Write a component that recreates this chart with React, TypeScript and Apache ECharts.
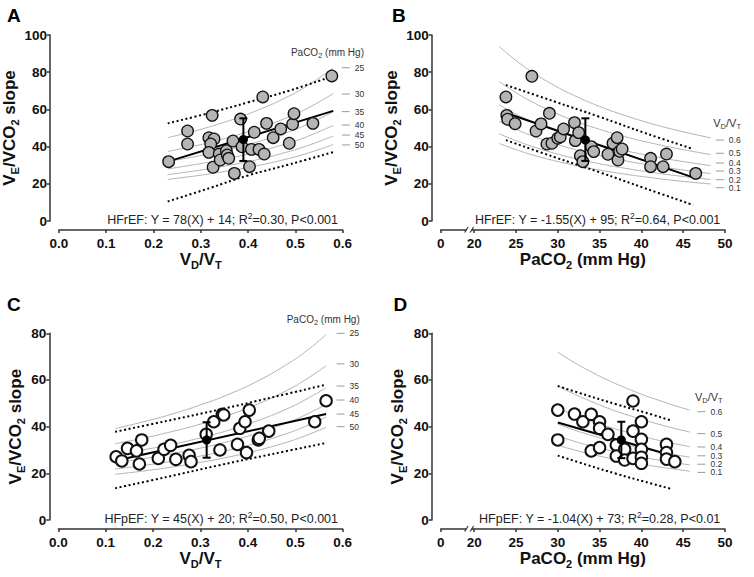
import React, { useEffect, useRef } from "react";
import * as echarts from "echarts";

const FONT = "'Liberation Sans', Arial, Helvetica, sans-serif";

// ---------------- Panel A : HFrEF, VD/VT vs VE/VCO2 slope ----------------
const A_vdvt = [0.232, 0.272, 0.272, 0.324, 0.317, 0.328, 0.321, 0.317, 0.326, 0.339, 0.341, 0.354, 0.356, 0.359, 0.368, 0.371, 0.384, 0.387, 0.403, 0.407, 0.413, 0.423, 0.431, 0.434, 0.439, 0.453, 0.469, 0.487, 0.494, 0.497, 0.537, 0.577];
const A_slope = [31.9, 48.4, 41.4, 56.8, 44.8, 44.1, 41.4, 36.9, 28.9, 36.0, 32.8, 37.8, 35.5, 33.7, 43.0, 25.6, 54.8, 39.9, 29.2, 38.5, 47.7, 38.5, 66.7, 36.0, 52.5, 44.8, 49.5, 41.8, 52.0, 57.7, 52.5, 78.0];
const A_isoX = [0.23, 0.27, 0.31, 0.35, 0.39, 0.43, 0.47, 0.52, 0.58];
const A_isoY = [
  [44.8, 47.3, 50.0, 53.1, 56.6, 60.6, 65.1, 71.9, 82.2],
  [37.4, 39.4, 41.7, 44.3, 47.2, 50.5, 54.3, 59.9, 68.5],
  [32.0, 33.8, 35.7, 37.9, 40.4, 43.3, 46.5, 51.4, 58.7],
  [28.0, 29.6, 31.3, 33.2, 35.4, 37.9, 40.7, 44.9, 51.4],
  [24.9, 26.3, 27.8, 29.5, 31.4, 33.6, 36.2, 40.0, 45.7],
  [22.4, 23.6, 25.0, 26.6, 28.3, 30.3, 32.6, 36.0, 41.1],
];
const A_isoLabels = ["25", "30", "35", "40", "45", "50"];
const A_isoLabelY = [82.4, 68.3, 58.8, 51.6, 46.2, 40.9];
const A_fitX = [0.23, 0.58];
const A_fitY = [31.9, 59.2];
const A_bandX = [0.23, 0.32, 0.40, 0.49, 0.58];
const A_bandUp = [52.5, 58.2, 63.8, 70.3, 78.0];
const A_bandLo = [10.5, 17.8, 24.5, 30.6, 37.0];
const A_mean = [0.39, 43.8];
const A_err = [32.3, 55.2];
const A_eq = ["HFrEF: Y = 78(X) + 14; R", "2", "=0.30, P<0.001"];

// ---------------- Panel B : HFrEF, PaCO2 vs VE/VCO2 slope ----------------
const B_paco2 = [23.8, 26.9, 23.9, 24.0, 24.9, 27.4, 28.0, 29.0, 28.7, 29.3, 30.0, 30.3, 30.7, 32.0, 32.1, 32.5, 32.7, 33.0, 34.0, 34.3, 36.0, 36.6, 37.1, 37.2, 37.4, 37.7, 41.1, 41.1, 42.6, 43.0, 46.5];
const B_slope = [66.7, 77.8, 56.8, 54.7, 52.3, 48.4, 52.2, 57.9, 41.4, 41.8, 44.5, 45.2, 49.5, 52.9, 43.2, 47.5, 35.1, 31.9, 40.0, 37.3, 35.9, 41.8, 44.8, 32.8, 37.5, 38.7, 33.7, 29.2, 29.2, 36.0, 25.6];
const B_isoX = [23, 25, 27, 29.5, 32, 35, 38, 41, 44.5, 48.3];
const B_isoY = [
  [93.8, 86.3, 79.9, 73.1, 67.4, 61.6, 56.8, 52.6, 48.5, 44.7],
  [75.0, 69.0, 63.9, 58.5, 53.9, 49.3, 45.4, 42.1, 38.8, 35.7],
  [62.5, 57.5, 53.3, 48.8, 45.0, 41.1, 37.9, 35.1, 32.3, 29.8],
  [53.6, 49.3, 45.7, 41.8, 38.5, 35.2, 32.4, 30.1, 27.7, 25.5],
  [46.9, 43.2, 40.0, 36.6, 33.7, 30.8, 28.4, 26.3, 24.2, 22.3],
  [41.7, 38.4, 35.5, 32.5, 30.0, 27.4, 25.2, 23.4, 21.5, 19.9],
];
const B_isoLabels = ["0.6", "0.5", "0.4", "0.3", "0.2", "0.1"];
const B_isoLabelY = [43.5, 36.4, 31.2, 26.9, 22.2, 17.9];
const B_fitX = [23.8, 46.6];
const B_fitY = [58.1, 22.8];
const B_bandX = [23.8, 29.5, 35, 40.5, 46.2];
const B_bandUp = [73.1, 64.4, 56.0, 47.2, 38.7];
const B_bandLo = [43.5, 34.5, 26.2, 17.5, 8.6];
const B_mean = [33.3, 43.6];
const B_err = [32.3, 55.2];
const B_eq = ["HFrEF: Y = -1.55(X) + 95; R", "2", "=0.64, P<0.001"];

// ---------------- Panel C : HFpEF, VD/VT vs VE/VCO2 slope ----------------
const C_vdvt = [0.122, 0.134, 0.146, 0.165, 0.176, 0.171, 0.211, 0.223, 0.237, 0.248, 0.276, 0.280, 0.312, 0.328, 0.341, 0.346, 0.349, 0.378, 0.383, 0.394, 0.403, 0.397, 0.422, 0.424, 0.444, 0.541, 0.565];
const C_slope = [27.1, 25.3, 30.7, 29.6, 34.3, 24.0, 26.4, 30.3, 32.0, 26.0, 27.7, 25.0, 36.7, 42.1, 30.0, 45.3, 45.0, 32.4, 39.3, 42.1, 47.1, 28.9, 34.3, 35.0, 38.1, 42.1, 51.1];
const C_isoX = [0.12, 0.18, 0.24, 0.30, 0.36, 0.42, 0.48, 0.52, 0.565];
const C_isoY = [
  [39.2, 42.1, 45.4, 49.3, 53.9, 59.5, 66.4, 71.9, 79.4],
  [32.7, 35.1, 37.9, 41.1, 45.0, 49.6, 55.3, 59.9, 66.1],
  [28.0, 30.1, 32.4, 35.2, 38.5, 42.5, 47.4, 51.4, 56.7],
  [24.5, 26.3, 28.4, 30.8, 33.7, 37.2, 41.5, 44.9, 49.6],
  [21.8, 23.4, 25.2, 27.4, 30.0, 33.1, 36.9, 40.0, 44.1],
  [19.6, 21.0, 22.7, 24.7, 27.0, 29.8, 33.2, 36.0, 39.7],
];
const C_isoLabels = ["25", "30", "35", "40", "45", "50"];
const C_isoLabelY = [80.0, 66.9, 57.4, 51.4, 45.4, 40.0];
const C_fitX = [0.125, 0.565];
const C_fitY = [25.6, 45.4];
const C_bandX = [0.12, 0.23, 0.34, 0.45, 0.565];
const C_bandUp = [37.8, 42.5, 47.3, 52.5, 58.0];
const C_bandLo = [13.6, 18.5, 23.5, 28.2, 33.0];
const C_mean = [0.313, 34.3];
const C_err = [26.7, 41.9];
const C_eq = ["HFpEF: Y = 45(X) + 20; R", "2", "=0.50, P<0.001"];

// ---------------- Panel D : HFpEF, PaCO2 vs VE/VCO2 slope ----------------
const D_paco2 = [30.0, 30.0, 32.0, 33.0, 34.0, 35.0, 35.0, 34.0, 35.0, 36.0, 37.0, 37.0, 38.0, 38.0, 39.0, 39.0, 39.0, 40.0, 40.0, 40.0, 40.0, 40.0, 43.0, 43.0, 43.0, 44.0];
const D_slope = [47.1, 34.3, 45.4, 42.1, 45.3, 42.1, 39.3, 29.6, 31.0, 36.7, 32.1, 27.4, 30.3, 25.7, 51.0, 38.1, 26.4, 42.1, 34.6, 30.3, 26.9, 24.3, 32.4, 28.9, 26.1, 25.0];
const D_isoX = [30, 32, 34, 36, 38, 40, 42, 44, 45.8];
const D_isoY = [
  [71.9, 67.4, 63.5, 59.9, 56.8, 53.9, 51.4, 49.0, 47.1],
  [57.5, 53.9, 50.8, 47.9, 45.4, 43.2, 41.1, 39.2, 37.7],
  [47.9, 45.0, 42.3, 40.0, 37.9, 36.0, 34.2, 32.7, 31.4],
  [41.1, 38.5, 36.3, 34.2, 32.4, 30.8, 29.4, 28.0, 26.9],
  [36.0, 33.7, 31.7, 30.0, 28.4, 27.0, 25.7, 24.5, 23.6],
  [32.0, 30.0, 28.2, 26.6, 25.2, 24.0, 22.8, 21.8, 20.9],
];
const D_isoLabels = ["0.6", "0.5", "0.4", "0.3", "0.2", "0.1"];
const D_isoLabelY = [46.4, 37.0, 31.3, 27.5, 23.9, 20.4];
const D_fitX = [30, 43];
const D_fitY = [41.8, 28.3];
const D_bandX = [30, 33.5, 37, 40.5, 43.6];
const D_bandUp = [57.4, 53.4, 49.6, 46.0, 42.6];
const D_bandLo = [27.6, 23.6, 19.8, 16.3, 13.3];
const D_mean = [37.6, 34.3];
const D_err = [26.5, 42.1];
const D_eq = ["HFpEF: Y = -1.04(X) + 73; R", "2", "=0.28, P<0.01"];

// ---------------- axes ----------------
const PC_TICKS = [16, 20, 25, 30, 35, 40, 45, 50];
const PC_TICK_LABELS = ["0", "20", "25", "30", "35", "40", "45", "50"];
const PANEL_LETTERS = ["A", "B", "C", "D"];

const GRIDS = [
  { left: 58.3, top: 35, width: 284.4, height: 186 },
  { left: 440.7, top: 35, width: 284.3, height: 186 },
  { left: 58.3, top: 333.3, width: 284.4, height: 186.7 },
  { left: 440.7, top: 333.3, width: 284.3, height: 186.7 },
];

const PANELS = [
  { kind: "vd", yMax: 100, sx: A_vdvt, sy: A_slope, fill: "#b5b5b5", bw: 1.3, isoX: A_isoX, isoY: A_isoY, labels: A_isoLabels, labelY: A_isoLabelY, fitX: A_fitX, fitY: A_fitY, bandX: A_bandX, bandUp: A_bandUp, bandLo: A_bandLo, mean: A_mean, err: A_err, eq: A_eq, labelX: 0.598, header: [0.645, 90.7] },
  { kind: "pc", yMax: 100, sx: B_paco2, sy: B_slope, fill: "#b5b5b5", bw: 1.3, isoX: B_isoX, isoY: B_isoY, labels: B_isoLabels, labelY: B_isoLabelY, fitX: B_fitX, fitY: B_fitY, bandX: B_bandX, bandUp: B_bandUp, bandLo: B_bandLo, mean: B_mean, err: B_err, eq: B_eq, labelX: 48.9, header: [48.6, 52.5] },
  { kind: "vd", yMax: 80, sx: C_vdvt, sy: C_slope, fill: "#ffffff", bw: 2, isoX: C_isoX, isoY: C_isoY, labels: C_isoLabels, labelY: C_isoLabelY, fitX: C_fitX, fitY: C_fitY, bandX: C_bandX, bandUp: C_bandUp, bandLo: C_bandLo, mean: C_mean, err: C_err, eq: C_eq, labelX: 0.587, header: [0.636, 86.0] },
  { kind: "pc", yMax: 80, sx: D_paco2, sy: D_slope, fill: "#ffffff", bw: 2, isoX: D_isoX, isoY: D_isoY, labels: D_isoLabels, labelY: D_isoLabelY, fitX: D_fitX, fitY: D_fitY, bandX: D_bandX, bandUp: D_bandUp, bandLo: D_bandLo, mean: D_mean, err: D_err, eq: D_eq, labelX: 46.7, header: [46.4, 52.6] },
];

const AXIS_COLOR = "#333";
const NAME_RICH = {
  n: { fontFamily: FONT, fontWeight: "bold", fontSize: 17, lineHeight: 22, color: "#111" },
  s: { fontFamily: FONT, fontWeight: "bold", fontSize: 11, lineHeight: 11, verticalAlign: "bottom", color: "#111" },
};

function xAxisFor(i: number, kind: string) {
  const common: any = {
    type: "value",
    gridIndex: i,
    offset: 9,
    axisLine: { show: true, onZero: false, lineStyle: { color: AXIS_COLOR, width: 1.5 } },
    axisTick: { show: true, length: 3, lineStyle: { color: AXIS_COLOR, width: 1.5 } },
    splitLine: { show: false },
    nameLocation: "middle",
    nameGap: 18,
    nameTextStyle: { rich: NAME_RICH },
  };
  const lab = { color: "#111", fontFamily: FONT, fontWeight: "bold", fontSize: 13.5, margin: 6 };
  if (kind === "vd") {
    return {
      ...common,
      min: 0,
      max: 0.6,
      interval: 0.1,
      axisLabel: { ...lab, formatter: (v: number) => v.toFixed(1) },
      name: "{n|V}{s|D}{n|/V}{s|T}",
    };
  }
  return {
    ...common,
    min: 16,
    max: 50,
    axisTick: { ...common.axisTick, customValues: PC_TICKS },
    axisLabel: {
      ...lab,
      customValues: PC_TICKS,
      formatter: (v: number) => {
        const k = PC_TICKS.indexOf(v);
        return k >= 0 ? PC_TICK_LABELS[k] : "";
      },
    },
    name: "{n|PaCO}{s|2}{n| (mm Hg)}",
  };
}

function yAxisFor(i: number, max: number) {
  return {
    type: "value",
    gridIndex: i,
    min: 0,
    max,
    interval: 20,
    offset: 9,
    axisLine: { show: true, onZero: false, lineStyle: { color: AXIS_COLOR, width: 1.5 } },
    axisTick: { show: true, length: 3, lineStyle: { color: AXIS_COLOR, width: 1.5 } },
    axisLabel: { color: "#111", fontFamily: FONT, fontWeight: "bold", fontSize: 13.5, margin: 3 },
    splitLine: { show: false },
    name: "{n|V}{s|E}{n|/VCO}{s|2}{n| slope}",
    nameLocation: "middle",
    nameRotate: 90,
    nameGap: 23,
    nameTextStyle: { rich: NAME_RICH },
  };
}

function buildOption() {
  const series: any[] = [];
  PANELS.forEach((p, i) => {
    const ax = { xAxisIndex: i, yAxisIndex: i };
    p.isoY.forEach((ys) => {
      series.push({
        type: "line", ...ax, silent: true, symbol: "none", smooth: 0.5, z: 1,
        data: p.isoX.map((x, j) => [x, ys[j]]),
        lineStyle: { color: "#b3b3b3", width: 1 },
      });
    });
    [p.bandUp, p.bandLo].forEach((b) => {
      series.push({
        type: "line", ...ax, silent: true, symbol: "none", smooth: 0.4, z: 2,
        data: p.bandX.map((x, j) => [x, b[j]]),
        lineStyle: { color: "#000", width: 2, type: [2, 2.6] },
      });
    });
    series.push({
      type: "line", ...ax, silent: true, symbol: "none", z: 3,
      data: p.fitX.map((x, j) => [x, p.fitY[j]]),
      lineStyle: { color: "#000", width: 2 },
    });
    series.push({
      type: "scatter", ...ax, z: 4, symbol: "circle", symbolSize: 11.5,
      data: p.sx.map((x, j) => [x, p.sy[j]]),
      itemStyle: { color: p.fill, borderColor: "#111", borderWidth: p.bw, opacity: 1 },
    });
    series.push({
      type: "custom", ...ax, z: 5,
      data: [[p.mean[0], p.err[0], p.err[1], p.mean[1]]],
      encode: { x: 0, y: [1, 2, 3] },
      renderItem: (_params: any, api: any) => {
        const x = api.value(0);
        const lo = api.coord([x, api.value(1)]);
        const hi = api.coord([x, api.value(2)]);
        const m = api.coord([x, api.value(3)]);
        const st = { stroke: "#000", lineWidth: 2 };
        return {
          type: "group",
          children: [
            { type: "line", shape: { x1: lo[0], y1: lo[1], x2: hi[0], y2: hi[1] }, style: st },
            { type: "line", shape: { x1: hi[0] - 4, y1: hi[1], x2: hi[0] + 4, y2: hi[1] }, style: st },
            { type: "line", shape: { x1: lo[0] - 4, y1: lo[1], x2: lo[0] + 4, y2: lo[1] }, style: st },
            { type: "circle", shape: { cx: m[0], cy: m[1], r: 4.6 }, style: { fill: "#000" } },
          ],
        };
      },
    });
  });

  return {
    animation: false,
    backgroundColor: "#fff",
    grid: GRIDS.map((g) => ({ ...g, containLabel: false })),
    xAxis: PANELS.map((p, i) => xAxisFor(i, p.kind)),
    yAxis: PANELS.map((p, i) => yAxisFor(i, p.yMax)),
    series,
  };
}

function buildGraphics(chart: any) {
  const els: any[] = [];
  const P = (i: number, x: number, y: number) => chart.convertToPixel({ gridIndex: i }, [x, y]);
  const letterPos = [[7, 15.5], [392, 15.5], [7, 304], [393.5, 304]];
  PANEL_LETTERS.forEach((L, i) => {
    els.push({
      type: "text", x: letterPos[i][0], y: letterPos[i][1], z: 100,
      style: { text: L, fill: "#000", font: `bold 19px ${FONT}`, fontSize: 19, fontWeight: "bold", fontFamily: FONT, align: "left", textAlign: "left", verticalAlign: "middle", textVerticalAlign: "middle" },
    });
  });
  PANELS.forEach((p, i) => {
    const xMax = p.kind === "vd" ? 0.6 : 50;
    const [rx, y0] = P(i, xMax, 0);
    // equation
    els.push({
      type: "text", x: rx - 4.7, y: y0 - 1.5, z: 100,
      style: {
        text: `{t|${p.eq[0]}}{p|${p.eq[1]}}{t|${p.eq[2]}}`,
        align: "right", textAlign: "right", verticalAlign: "middle", textVerticalAlign: "middle",
        rich: {
          t: { fontFamily: FONT, fontSize: 12.5, lineHeight: 17, fill: "#222", color: "#222" },
          p: { fontFamily: FONT, fontSize: 8.5, lineHeight: 9, verticalAlign: "top", fill: "#222", color: "#222" },
        },
      },
    });
    // isopleth labels
    p.labels.forEach((lab, k) => {
      const [lx, ly] = P(i, p.labelX, p.labelY[k]);
      els.push({ type: "line", z: 100, shape: { x1: lx, y1: ly, x2: lx + 8, y2: ly }, style: { stroke: "#9a9a9a", lineWidth: 1 } });
      els.push({
        type: "text", x: lx + 13, y: ly, z: 100,
        style: { text: lab, fill: "#333", fontFamily: FONT, fontSize: 8.5, lineHeight: 8, font: `8.5px ${FONT}`, align: "left", textAlign: "left", verticalAlign: "middle", textVerticalAlign: "middle" },
      });
    });
    // header
    const [hx, hy] = P(i, p.header[0], p.header[1]);
    const isVd = p.kind === "vd";
    els.push({
      type: "text", x: hx, y: hy, z: 100,
      style: {
        text: isVd ? "{t|PaCO}{s|2}{t| (mm Hg)}" : "{t|V}{s|D}{t|/V}{s|T}",
        align: isVd ? "right" : "left", textAlign: isVd ? "right" : "left",
        verticalAlign: "middle", textVerticalAlign: "middle",
        rich: {
          t: { fontFamily: FONT, fontSize: isVd ? 10 : 11, lineHeight: 14, fill: "#333", color: "#333" },
          s: { fontFamily: FONT, fontSize: 7.5, lineHeight: 8, verticalAlign: "bottom", fill: "#333", color: "#333" },
        },
      },
    });
    // axis break for PaCO2 axes
    if (!isVd) {
      const [bx, by0] = P(i, 19.4, 0);
      const by = by0 + 9;
      els.push({ type: "rect", z: 100, shape: { x: bx - 2.5, y: by - 3, width: 5, height: 6 }, style: { fill: "#fff" } });
      els.push({ type: "line", z: 101, shape: { x1: bx - 4.5, y1: by + 2.5, x2: bx - 1, y2: by - 3 }, style: { stroke: AXIS_COLOR, lineWidth: 1.2 } });
      els.push({ type: "line", z: 101, shape: { x1: bx + 1, y1: by + 2.5, x2: bx + 4.5, y2: by - 3 }, style: { stroke: AXIS_COLOR, lineWidth: 1.2 } });
    }
  });
  return els;
}

export default function App() {
  const ref = useRef<HTMLDivElement>(null);
  useEffect(() => {
    if (!ref.current) return;
    const chart = echarts.init(ref.current, null, { renderer: "svg" });
    chart.setOption(buildOption() as any);
    chart.setOption({ graphic: buildGraphics(chart) } as any);
    return () => chart.dispose();
  }, []);
  return (
    <div
      ref={ref}
      style={{ position: "absolute", left: 0, top: 0, width: 754, height: 577, background: "#fff" }}
    />
  );
}
